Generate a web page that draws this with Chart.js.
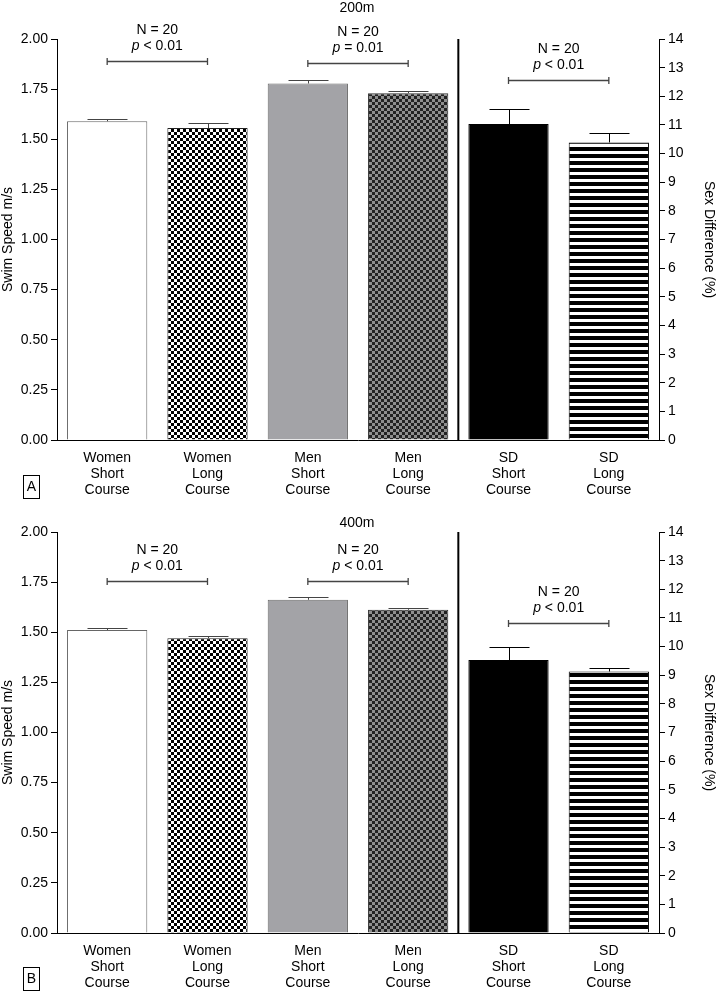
<!DOCTYPE html>
<html>
<head>
<meta charset="utf-8">
<script src="https://cdn.jsdelivr.net/npm/chart.js@4.4.0/dist/chart.umd.min.js"></script>
<style>
    body { margin: 0; background: #fff; }
    canvas { position: absolute; left: 0; }
    #panelA { top: 0; }
    #panelB { top: 491px; }
</style>
</head>
<body>
<canvas id="panelA" width="717" height="500"></canvas>
<canvas id="panelB" width="717" height="500"></canvas>
<script>
// CATEGORIES
var categories = [
    ["Women", "Short", "Course"], ["Women", "Long", "Course"],
    ["Men", "Short", "Course"], ["Men", "Long", "Course"],
    ["SD", "Short", "Course"], ["SD", "Long", "Course"]
];

// 200m (swim speed m/s, sex difference %)
var speed200 = [1.59, 1.556, 1.778, 1.73];
var speedErr200 = [0.012, 0.023, 0.018, 0.011];
var sexDiff200 = [11.03, 10.39];
var sexDiffErr200 = [0.52, 0.33];

// 400m
var speed400 = [1.511, 1.47, 1.662, 1.612];
var speedErr400 = [0.01, 0.01, 0.016, 0.008];
var sexDiff400 = [9.53, 9.13];
var sexDiffErr400 = [0.47, 0.11];

// comparison brackets (first bar of each pair, axis, level, p text)
var bracketStart = [0, 2, 4];
var bracketAxis = ['y', 'y', 'y2'];
var bracketLevel200 = [1.89, 1.879, 12.57];
var bracketP200 = ['< 0.01', '= 0.01', '< 0.01'];
var bracketLevel400 = [1.755, 1.755, 10.82];
var bracketP400 = ['< 0.01', '< 0.01', '< 0.01'];
var bracketN = 'N = 20';

Chart.defaults.font.family = '"Liberation Sans", Arial, sans-serif';
Chart.defaults.font.size = 14;
Chart.defaults.color = '#000';

// PATTERNS
function makePattern(w, h, draw) {
    var c = document.createElement('canvas');
    c.width = w;
    c.height = h;
    draw(c.getContext('2d'));
    return document.getElementById('panelA').getContext('2d').createPattern(c, 'repeat');
}
function checker(a, b) {
    return makePattern(6, 6, function (g) {
        g.fillStyle = a; g.fillRect(0, 0, 6, 6);
        g.fillStyle = b; g.fillRect(0, 0, 3, 3); g.fillRect(3, 3, 3, 3);
    });
}
var checkBW = checker('#fff', '#000');
var checkGB = checker('#8e8e8e', '#222');
var stripes = makePattern(4, 7, function (g) {
    g.fillStyle = '#fff'; g.fillRect(0, 0, 4, 7);
    g.fillStyle = '#000'; g.fillRect(0, 0, 4, 4);
});

// ERROR BARS, DIVIDER, BRACKETS, TITLE
var panelDecor = {
    id: 'panelDecor',
    afterDatasetsDraw: function (chart, args, opts) {
        var ctx = chart.ctx;
        var xs = chart.scales.x;
        var area = chart.chartArea;
        ctx.save();

        chart.data.datasets.forEach(function (ds, i) {
            var meta = chart.getDatasetMeta(i);
            var scale = chart.scales[ds.yAxisID];
            meta.data.forEach(function (bar, j) {
                if (ds.data[j] == null) return;
                var top = Math.round(scale.getPixelForValue(ds.data[j] + ds.errors[j])) + 0.5;
                var bx = Math.round(bar.x) + 0.5;
                ctx.strokeStyle = ds.errorColor;
                ctx.lineWidth = 1;
                ctx.beginPath();
                ctx.moveTo(bx, bar.y);
                ctx.lineTo(bx, top);
                ctx.moveTo(bx - 20, top);
                ctx.lineTo(bx + 20, top);
                ctx.stroke();
            });
        });

        // vertical line between speed bars and sex difference bars
        var dx = (xs.getPixelForValue(3) + xs.getPixelForValue(4)) / 2;
        ctx.strokeStyle = '#000';
        ctx.lineWidth = 2;
        ctx.beginPath();
        ctx.moveTo(dx, area.top);
        ctx.lineTo(dx, area.bottom);
        ctx.stroke();

        ctx.textAlign = 'left';
        ctx.textBaseline = 'middle';
        for (var k = 0; k < bracketStart.length; k++) {
            var x1 = xs.getPixelForValue(bracketStart[k]);
            var x2 = xs.getPixelForValue(bracketStart[k] + 1);
            var y = Math.round(chart.scales[bracketAxis[k]].getPixelForValue(opts.levels[k])) + 0.5;
            ctx.strokeStyle = '#444';
            ctx.lineWidth = 1.3;
            ctx.beginPath();
            ctx.moveTo(x1, y); ctx.lineTo(x2, y);
            ctx.moveTo(x1, y - 3.5); ctx.lineTo(x1, y + 3.5);
            ctx.moveTo(x2, y - 3.5); ctx.lineTo(x2, y + 3.5);
            ctx.stroke();

            var xm = (x1 + x2) / 2;
            ctx.fillStyle = '#000';
            ctx.font = '14px "Liberation Sans", Arial, sans-serif';
            var wN = ctx.measureText(bracketN).width;
            ctx.fillText(bracketN, xm - wN / 2, y - 31);
            var rest = ' ' + opts.pTexts[k];
            var wRest = ctx.measureText(rest).width;
            ctx.font = 'italic 14px "Liberation Sans", Arial, sans-serif';
            var wP = ctx.measureText('p').width;
            var sx = xm - (wP + wRest) / 2;
            ctx.fillText('p', sx, y - 15);
            ctx.font = '14px "Liberation Sans", Arial, sans-serif';
            ctx.fillText(rest, sx + wP, y - 15);
        }

        ctx.textAlign = 'center';
        ctx.fillText(opts.title, 357, opts.titleY);

        // panel letter
        ctx.strokeStyle = '#000';
        ctx.lineWidth = 1;
        ctx.strokeRect(23.5, opts.letterY + 0.5, 16, 23);
        ctx.fillText(opts.letter, 31.5, opts.letterY + 12);
        ctx.restore();
    }
};

function makePanel(id, speeds, speedErrs, sd, sdErrs, levels, pTexts, title, titleY, letter, letterY, padTop, xHeight) {
    return new Chart(document.getElementById(id), {
        type: 'bar',
        data: {
            labels: categories,
            datasets: [{
                data: speeds.concat([null, null]),
                errors: speedErrs.concat([null, null]),
                yAxisID: 'y',
                grouped: false,
                backgroundColor: ['#fff', checkBW, '#a3a3a7', checkGB],
                borderColor: ['#666', '#222', '#6a6a6a', '#333'],
                borderWidth: 1,
                errorColor: '#444'
            }, {
                data: [null, null, null, null].concat(sd),
                errors: [null, null, null, null].concat(sdErrs),
                yAxisID: 'y2',
                grouped: false,
                backgroundColor: [null, null, null, null, '#000', stripes],
                borderColor: '#000',
                borderWidth: 1,
                errorColor: '#000'
            }]
        },
        options: {
            responsive: false,
            animation: false,
            barPercentage: 0.8,
            categoryPercentage: 1.0,
            layout: { padding: { top: padTop, left: 0, right: 0, bottom: 0 } },
            plugins: {
                legend: { display: false },
                tooltip: { enabled: false },
                panelDecor: { levels: levels, pTexts: pTexts, title: title, titleY: titleY, letter: letter, letterY: letterY }
            },
            scales: {
                x: {
                    offset: true,
                    grid: { display: false, drawTicks: false },
                    border: { color: '#000', width: 1 },
                    ticks: { padding: 10, maxRotation: 0, autoSkip: false, font: { size: 14, lineHeight: 1.15 } },
                    afterFit: function (s) { s.height = xHeight; }
                },
                y: {
                    position: 'left',
                    min: 0,
                    max: 2,
                    ticks: {
                        stepSize: 0.25,
                        padding: 3,
                        callback: function (v) { return v.toFixed(2); }
                    },
                    grid: { drawOnChartArea: false, tickLength: 6, color: '#000' },
                    border: { color: '#000', width: 1 },
                    title: { display: true, text: 'Swim Speed m/s', padding: 0 },
                    afterFit: function (s) { s.width = 57; }
                },
                y2: {
                    position: 'right',
                    min: 0,
                    max: 14,
                    ticks: { stepSize: 1, padding: 3 },
                    grid: { drawOnChartArea: false, tickLength: 6, color: '#000' },
                    border: { color: '#000', width: 1 },
                    title: { display: true, text: 'Sex Difference (%)', padding: 0 },
                    afterFit: function (s) { s.width = 58; }
                }
            }
        },
        plugins: [panelDecor]
    });
}

makePanel('panelA', speed200, speedErr200, sexDiff200, sexDiffErr200,
    bracketLevel200, bracketP200, '200m', 8, 'A', 475, 39, 60);
makePanel('panelB', speed400, speedErr400, sexDiff400, sexDiffErr400,
    bracketLevel400, bracketP400, '400m', 32, 'B', 476, 41, 58);
</script>
</body>
</html>
